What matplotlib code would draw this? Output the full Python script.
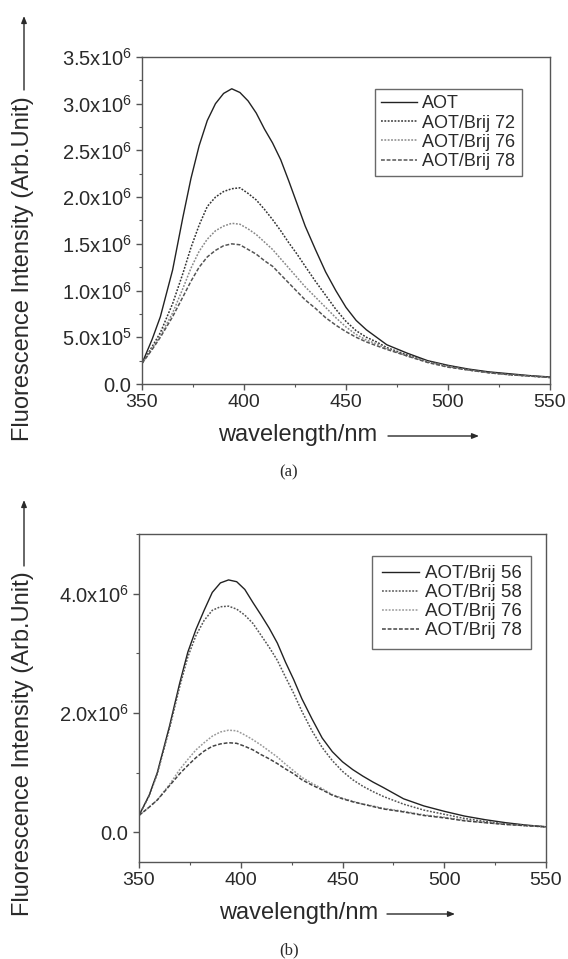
import matplotlib
matplotlib.use("Agg")
import matplotlib.pyplot as plt
from matplotlib.ticker import MultipleLocator, FixedLocator, FixedFormatter

plt.rcParams['font.family'] = ['Liberation Sans', 'DejaVu Sans']
plt.rcParams['mathtext.fontset'] = 'custom'
plt.rcParams['mathtext.rm'] = 'Liberation Sans'

# ---------------- data ----------------
wavelength = [350, 355, 359, 365, 370, 374, 378, 382, 386, 390, 394, 398, 402, 406,
              410, 414, 418, 422, 426, 430, 435, 440, 445, 450, 455, 460, 465, 470,
              480, 490, 500, 510, 520, 530, 540, 550]

# panel (a), units of 1e6
a_labels = ["AOT", "AOT/Brij 72", "AOT/Brij 76", "AOT/Brij 78"]
a_aot = [0.22, 0.48, 0.72, 1.22, 1.78, 2.20, 2.55, 2.82, 3.00, 3.11, 3.16, 3.12, 3.03, 2.90,
         2.73, 2.58, 2.40, 2.17, 1.93, 1.69, 1.44, 1.20, 1.00, 0.82, 0.68, 0.58, 0.50, 0.42,
         0.33, 0.25, 0.20, 0.16, 0.13, 0.11, 0.09, 0.075]
a_b72 = [0.22, 0.40, 0.55, 0.86, 1.18, 1.46, 1.70, 1.90, 2.00, 2.06, 2.09, 2.10, 2.04, 1.97,
         1.87, 1.76, 1.64, 1.51, 1.39, 1.26, 1.10, 0.95, 0.80, 0.67, 0.57, 0.50, 0.45, 0.39,
         0.31, 0.24, 0.19, 0.15, 0.125, 0.10, 0.085, 0.07]
a_b76 = [0.22, 0.38, 0.52, 0.76, 1.02, 1.24, 1.42, 1.55, 1.64, 1.69, 1.72, 1.71, 1.66, 1.60,
         1.52, 1.44, 1.34, 1.24, 1.14, 1.04, 0.93, 0.82, 0.71, 0.61, 0.53, 0.47, 0.43, 0.38,
         0.30, 0.24, 0.19, 0.15, 0.12, 0.10, 0.085, 0.07]
a_b78 = [0.22, 0.37, 0.50, 0.72, 0.93, 1.10, 1.25, 1.36, 1.43, 1.48, 1.50, 1.49, 1.44, 1.39,
         1.32, 1.26, 1.17, 1.08, 0.99, 0.90, 0.81, 0.71, 0.63, 0.56, 0.50, 0.45, 0.41, 0.37,
         0.30, 0.23, 0.18, 0.15, 0.12, 0.10, 0.085, 0.07]

# panel (b), units of 1e6
b_labels = ["AOT/Brij 56", "AOT/Brij 58", "AOT/Brij 76", "AOT/Brij 78"]
b_b56 = [0.28, 0.62, 1.00, 1.78, 2.50, 3.02, 3.40, 3.72, 4.02, 4.18, 4.23, 4.20, 4.07, 3.85,
         3.64, 3.42, 3.17, 2.85, 2.56, 2.24, 1.90, 1.58, 1.35, 1.18, 1.05, 0.94, 0.84, 0.75,
         0.56, 0.44, 0.35, 0.27, 0.21, 0.16, 0.12, 0.09]
b_b58 = [0.28, 0.61, 0.98, 1.74, 2.44, 2.94, 3.30, 3.55, 3.72, 3.78, 3.79, 3.74, 3.64, 3.50,
         3.30, 3.10, 2.88, 2.60, 2.33, 2.03, 1.70, 1.42, 1.20, 1.02, 0.88, 0.77, 0.68, 0.60,
         0.47, 0.37, 0.30, 0.23, 0.18, 0.14, 0.11, 0.09]
b_b76 = [0.28, 0.42, 0.54, 0.80, 1.05, 1.22, 1.38, 1.50, 1.61, 1.68, 1.71, 1.70, 1.63, 1.55,
         1.46, 1.36, 1.26, 1.14, 1.03, 0.92, 0.82, 0.73, 0.63, 0.57, 0.52, 0.47, 0.44, 0.40,
         0.35, 0.29, 0.25, 0.20, 0.16, 0.13, 0.11, 0.09]
b_b78 = [0.28, 0.42, 0.54, 0.78, 0.98, 1.12, 1.25, 1.36, 1.44, 1.48, 1.50, 1.49, 1.44, 1.38,
         1.30, 1.23, 1.15, 1.06, 0.98, 0.88, 0.79, 0.71, 0.62, 0.56, 0.51, 0.47, 0.43, 0.39,
         0.34, 0.28, 0.24, 0.19, 0.16, 0.13, 0.11, 0.09]

x_ticks = [350, 400, 450, 500, 550]
a_yticks = [0, 0.5e6, 1.0e6, 1.5e6, 2.0e6, 2.5e6, 3.0e6, 3.5e6]
a_yticklabels = ["0.0", r"$\mathregular{5.0x10^{5}}$", r"$\mathregular{1.0x10^{6}}$",
                 r"$\mathregular{1.5x10^{6}}$", r"$\mathregular{2.0x10^{6}}$",
                 r"$\mathregular{2.5x10^{6}}$", r"$\mathregular{3.0x10^{6}}$",
                 r"$\mathregular{3.5x10^{6}}$"]
b_yticks = [0, 2.0e6, 4.0e6]
b_yticklabels = ["0.0", r"$\mathregular{2.0x10^{6}}$", r"$\mathregular{4.0x10^{6}}$"]

# ---------------- figure ----------------
W, H = 568, 959
fig = plt.figure(figsize=(W / 100, H / 100), dpi=100)
txt = '#2a2a2a'
spine_c = '#555555'

def px_axes(l, t, r, b):
    return fig.add_axes([l / W, 1 - b / H, (r - l) / W, (b - t) / H])

styles_a = [dict(color='#222222', lw=1.0, ls='-'),
            dict(color='#333333', lw=1.1, ls=(0, (1.2, 1.0))),
            dict(color='#888888', lw=1.1, ls=(0, (1.2, 1.0))),
            dict(color='#555555', lw=1.1, ls=(0, (2.5, 1.2)))]
styles_b = [dict(color='#222222', lw=1.0, ls='-'),
            dict(color='#555555', lw=1.1, ls=(0, (1.2, 1.0))),
            dict(color='#999999', lw=1.1, ls=(0, (1.2, 1.0))),
            dict(color='#444444', lw=1.1, ls=(0, (2.5, 1.2)))]

def style_axes(ax):
    for s in ax.spines.values():
        s.set_color(spine_c)
        s.set_linewidth(1.0)
    ax.tick_params(which='both', direction='out', colors=spine_c, labelcolor=txt,
                   labelsize=14, top=False, right=False)
    ax.tick_params(axis='y', labelsize=14.5)
    ax.tick_params(which='major', length=4, width=1.0)
    ax.tick_params(which='minor', length=2.5, width=0.8)
    ax.xaxis.set_major_locator(FixedLocator(x_ticks))
    ax.xaxis.set_minor_locator(MultipleLocator(25))
    ax.set_xlim(350, 550)

# panel (a)
ax1 = px_axes(142, 57, 550, 384)
for ys, lab, st in zip([a_aot, a_b72, a_b76, a_b78], a_labels, styles_a):
    ax1.plot(wavelength, [v * 1e6 for v in ys], label=lab, **st)
style_axes(ax1)
ax1.set_ylim(0, 3.5e6)
ax1.yaxis.set_major_locator(FixedLocator(a_yticks))
ax1.yaxis.set_major_formatter(FixedFormatter(a_yticklabels))
ax1.yaxis.set_minor_locator(MultipleLocator(0.25e6))
leg1 = ax1.legend(loc='upper right', bbox_to_anchor=(0.931, 0.902), borderaxespad=0,
                  fontsize=13, frameon=True, fancybox=False, edgecolor='#444444',
                  handlelength=2.0, handletextpad=0.3, labelspacing=0.12,
                  borderpad=0.35)
leg1.get_frame().set_linewidth(1.0)
for t in leg1.get_texts():
    t.set_color(txt)

# panel (b)
ax2 = px_axes(139, 534, 546, 862)
for ys, lab, st in zip([b_b56, b_b58, b_b76, b_b78], b_labels, styles_b):
    ax2.plot(wavelength, [v * 1e6 for v in ys], label=lab, **st)
style_axes(ax2)
ax2.set_ylim(-0.5e6, 5.0e6)
ax2.yaxis.set_major_locator(FixedLocator(b_yticks))
ax2.yaxis.set_major_formatter(FixedFormatter(b_yticklabels))
ax2.yaxis.set_minor_locator(MultipleLocator(1.0e6))
leg2 = ax2.legend(loc='upper right', bbox_to_anchor=(0.963, 0.933), borderaxespad=0,
                  fontsize=13.5, frameon=True, fancybox=False, edgecolor='#444444',
                  handlelength=2.0, handletextpad=0.3, labelspacing=0.1,
                  borderpad=0.5)
leg2.get_frame().set_linewidth(1.0)
for t in leg2.get_texts():
    t.set_color(txt)

# axis labels with arrows (figure pixel coords)
def fx(x):
    return x / W

def fy(y):
    return 1 - y / H

def ylabel_arrow(yc, y_line0, y_tip):
    fig.text(fx(23), fy(yc), "Fluorescence Intensity (Arb.Unit)", rotation=90,
             ha='center', va='center', fontsize=17, color=txt)
    fig.add_artist(matplotlib.patches.FancyArrowPatch(
        (fx(24), fy(y_line0)), (fx(24), fy(y_tip)), transform=fig.transFigure,
        arrowstyle='-|>,head_length=4,head_width=1.6', color=txt, lw=1.0,
        shrinkA=0, shrinkB=0))

def xlabel_arrow(xc, y, x0, x1):
    fig.text(fx(xc), fy(y), "wavelength/nm", ha='center', va='center',
             fontsize=17, color=txt)
    fig.add_artist(matplotlib.patches.FancyArrowPatch(
        (fx(x0), fy(y + 1)), (fx(x1), fy(y + 1)), transform=fig.transFigure,
        arrowstyle='-|>,head_length=4,head_width=1.6', color=txt, lw=1.0,
        shrinkA=0, shrinkB=0))

ylabel_arrow(269, 90, 16)
xlabel_arrow(298, 435, 388, 479)
ylabel_arrow(744, 566, 500)
xlabel_arrow(299, 913, 387, 455)

fig.text(fx(289), fy(472), "(a)", ha='center', va='center', fontsize=12,
         family=['Liberation Serif', 'DejaVu Serif'], color=txt)
fig.text(fx(289), fy(950), "(b)", ha='center', va='center', fontsize=12,
         family=['Liberation Serif', 'DejaVu Serif'], color=txt)

fig.savefig("out.png", dpi=100)
